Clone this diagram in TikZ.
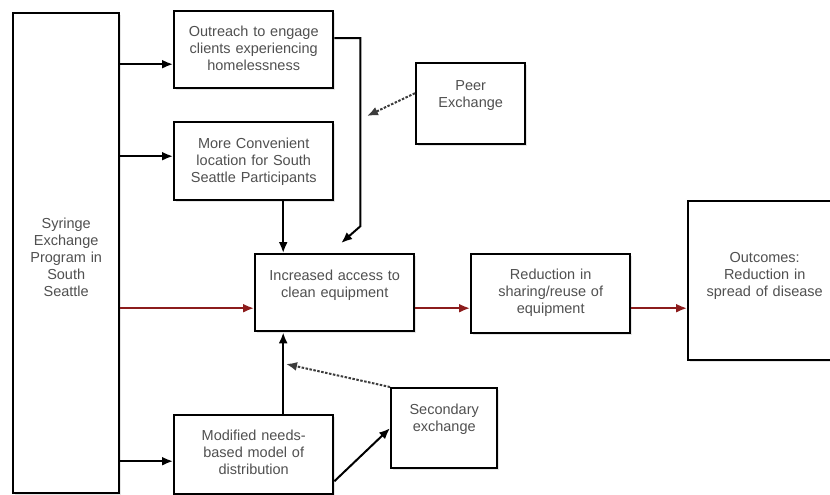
\documentclass[tikz,border=0pt]{standalone}
\usepackage{fontspec}
\setmainfont{Liberation Sans}
\usetikzlibrary{arrows.meta,shadows}
\definecolor{txtgray}{RGB}{80,80,80}
\definecolor{flowred}{RGB}{140,28,28}
\definecolor{dotgray}{RGB}{60,60,60}

\begin{document}
\begin{tikzpicture}[x=1pt,y=-1pt,>={Latex[length=11pt,width=9pt]},line width=2pt,
	every node/.style={font=\fontsize{14.5}{17}\selectfont}]
	\tikzstyle{blk}=[draw,line width=2.4pt,fill=white,anchor=north west,align=center,text=txtgray,
	inner xsep=3pt,inner ysep=0pt,text width=153pt,text height=25pt,
	drop shadow={opacity=0.2,shadow xshift=2pt,shadow yshift=-2pt}]
	\tikzstyle{redflow}=[->,draw=flowred]
	\tikzstyle{dotflow}=[->,draw=dotgray,dash pattern=on 2.5pt off 1.5pt]
	\useasboundingbox (0,0) rectangle (830,495);
	\node[blk,text width=100pt,text height=215pt,text depth=265pt] (syr) at (12,12) {Syringe\\Exchange\\Program in\\South\\Seattle};
	\node[blk,text depth=52pt] (outr) at (173,10) {Outreach to engage\\clients experiencing\\homelessness};
	\node[blk,text height=26pt,text depth=52pt] (conv) at (173,121) {More Convenient\\location for South\\Seattle Participants};
	\node[blk,text width=103pt,text height=27pt,text depth=54pt] (peer) at (415,62) {Peer\\Exchange};
	\node[blk,text height=26pt,text depth=51pt] (acc) at (254,253) {Increased access to\\clean equipment};
	\node[blk,text depth=54pt] (red) at (470,253) {Reduction in\\sharing/reuse of\\equipment};
	\node[blk,text width=147pt,text height=61pt,text depth=98pt] (outc) at (687,200) {Outcomes:\\Reduction in\\spread of disease};
	\node[blk,text width=100pt,text height=26pt,text depth=54pt] (sec) at (390,387) {Secondary\\exchange};
	\node[blk,text depth=54pt] (mod) at (173,414) {Modified needs-\\based model of\\distribution};
	
	\coordinate (o1) at ([yshift=-14.5pt]outr.west);
	\coordinate (c1) at ([yshift=5pt]conv.west);
	\coordinate (a1) at ([yshift=-15.5pt]acc.west);
	\coordinate (m1) at ([yshift=-6.5pt]mod.west);
	\coordinate (v1) at ([xshift=29.5pt]conv.south);
	\coordinate (v2) at ([xshift=29.5pt]mod.north);
	\coordinate (o2) at ([yshift=11.5pt]outr.east);
	\coordinate (t1) at ([xshift=6.5pt,yshift=10pt]acc.north);
	\coordinate (p1) at ([yshift=10.5pt]peer.west);
	\coordinate (pt) at (367,116);
	\coordinate (st) at (286,364);
	
	\draw[->] (syr.east |- o1) -- (o1);
	\draw[->] (syr.east |- c1) -- (c1);
	\draw[->] (syr.east |- m1) -- (m1);
	\draw[redflow] (syr.east |- a1) -- (a1);
	\draw[redflow] (acc.east |- a1) -- (red.west |- a1);
	\draw[redflow] (red.east |- a1) -- (outc.west |- a1);
	\draw[->] (v1) -- (v1 |- acc.north);
	\draw[->] (v2) -- (v2 |- acc.south);
	\draw[->] (o2) -- ++(26,0) -- ++(0,188) -- (t1);
	\draw[dotflow] (p1) -- (pt);
	\draw[dotflow] (sec.north west) -- (st);
	\draw[->] ([yshift=-26.5pt]mod.east) -- (sec.west);
\end{tikzpicture}
\end{document}
